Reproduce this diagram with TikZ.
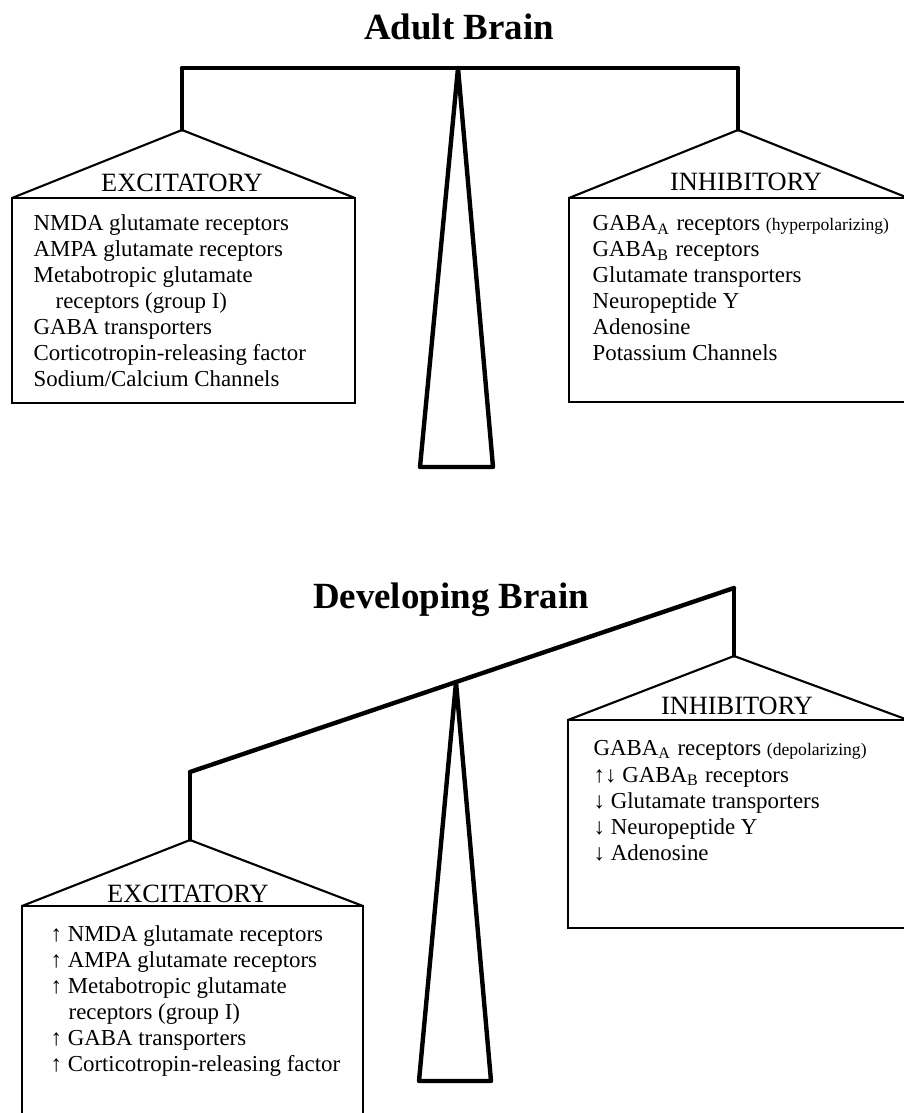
\documentclass[tikz,border=0pt]{standalone}
\usepackage{fontspec}
\setmainfont{Liberation Serif}
\tikzset{
  beamline/.style={line width=1.25pt, line join=round, line cap=round},
  hangline/.style={line width=0.95pt, line cap=round},
  panline/.style={line width=0.6pt, line join=miter},
  titletext/.style={font=\fontsize{10.5}{12}\selectfont\bfseries, inner sep=0pt, anchor=base},
  headtext/.style={font=\fontsize{7.5}{9}\selectfont, inner sep=0pt, anchor=base},
  itemtext/.style={font=\fontsize{6.5}{7.4}\selectfont, inner sep=0pt, anchor=base west},
}
\newcommand{\smalltxt}[1]{{\fontsize{5}{6}\selectfont #1}}
\begin{document}
\begin{tikzpicture}[x=0.01cm, y=-0.01cm]
\useasboundingbox (0,0) rectangle (904,1113);
\clip (0,0) rectangle (904,1113);
\fill[white] (0,0) rectangle (904,1113);

% ---------------- Adult brain ----------------
\node[titletext] (t1) at (459,40) {Adult Brain};
\coordinate (b1L) at (182,68);
\coordinate (b1R) at (738,68);
\coordinate (f1top) at (458,68);
\coordinate (f1bl) at (420,467);
\coordinate (f1br) at (493,467);
\coordinate (p1L) at (182,130);
\coordinate (p1R) at (738,130);
\coordinate (x1a) at (12,198);
\coordinate (x1b) at (355,198);
\coordinate (x1c) at (355,403);
\coordinate (y1a) at (569,198);
\coordinate (y1b) at (908,198);
\coordinate (y1c) at (908,402);

\draw[beamline] (f1top) -- (f1bl) -- (f1br) -- cycle;
\draw[beamline] (b1L) -- (b1R);
\draw[hangline] (b1L) -- (p1L);
\draw[hangline] (b1R) -- (p1R);
\draw[panline] (x1a) -- (p1L) -- (x1b);
\draw[panline] (x1a) rectangle (x1c);
\draw[panline] (y1a) -- (p1R) -- (y1b);
\draw[panline] (y1a) rectangle (y1c);

\node[headtext] (h1L) at (182,192) {EXCITATORY};
\node[itemtext] (a1) at (33,231) {NMDA glutamate receptors};
\node[itemtext] (a2) at (33,257) {AMPA glutamate receptors};
\node[itemtext] (a3) at (33,283) {Metabotropic glutamate};
\node[itemtext] (a4) at (55,309) {receptors (group I)};
\node[itemtext] (a5) at (33,335) {GABA transporters};
\node[itemtext] (a6) at (33,361) {Corticotropin-releasing factor};
\node[itemtext] (a7) at (33,387) {Sodium/Calcium Channels};

\node[headtext] (h1R) at (746,191) {INHIBITORY};
\node[itemtext] (c1) at (592,231) {GABA\textsubscript{A} receptors \smalltxt{(hyperpolarizing)}};
\node[itemtext] (c2) at (592,257) {GABA\textsubscript{B} receptors};
\node[itemtext] (c3) at (592,283) {Glutamate transporters};
\node[itemtext] (c4) at (592,309) {Neuropeptide Y};
\node[itemtext] (c5) at (592,335) {Adenosine};
\node[itemtext] (c6) at (592,361) {Potassium Channels};

% ---------------- Developing brain ----------------
\node[titletext] (t2) at (451,608) {Developing Brain};
\coordinate (b2L) at (190,772);
\coordinate (b2R) at (734,588);
\coordinate (f2top) at (456,682);
\coordinate (f2bl) at (419,1081);
\coordinate (f2br) at (491,1081);
\coordinate (p2L) at (190,840);
\coordinate (p2R) at (734,656);
\coordinate (x2a) at (22,906);
\coordinate (x2b) at (363,906);
\coordinate (x2c) at (363,1130);
\coordinate (y2a) at (568,720);
\coordinate (y2b) at (908,720);
\coordinate (y2c) at (908,928);

\draw[beamline] (f2top) -- (f2bl) -- (f2br) -- cycle;
\draw[beamline] (b2L) -- (b2R);
\draw[hangline] (b2L) -- (p2L);
\draw[hangline] (b2R) -- (p2R);
\draw[panline] (x2a) -- (p2L) -- (x2b);
\draw[panline] (x2a) rectangle (x2c);
\draw[panline] (y2a) -- (p2R) -- (y2b);
\draw[panline] (y2a) rectangle (y2c);

\node[headtext] (h2L) at (188,902) {EXCITATORY};
\node[itemtext] (d1) at (50,941) {↑ NMDA glutamate receptors};
\node[itemtext] (d2) at (50,967) {↑ AMPA glutamate receptors};
\node[itemtext] (d3) at (50,993) {↑ Metabotropic glutamate};
\node[itemtext] (d4) at (68,1019) {receptors (group I)};
\node[itemtext] (d5) at (50,1045) {↑ GABA transporters};
\node[itemtext] (d6) at (50,1071) {↑ Corticotropin-releasing factor};

\node[headtext] (h2R) at (737,714) {INHIBITORY};
\node[itemtext] (e1) at (593,755) {GABA\textsubscript{A} receptors \smalltxt{(depolarizing)}};
\node[itemtext] (e2) at (593,782) {↑↓ GABA\textsubscript{B} receptors};
\node[itemtext] (e3) at (593,808) {↓ Glutamate transporters};
\node[itemtext] (e4) at (593,834) {↓ Neuropeptide Y};
\node[itemtext] (e5) at (593,860) {↓ Adenosine};
\end{tikzpicture}
\end{document}
